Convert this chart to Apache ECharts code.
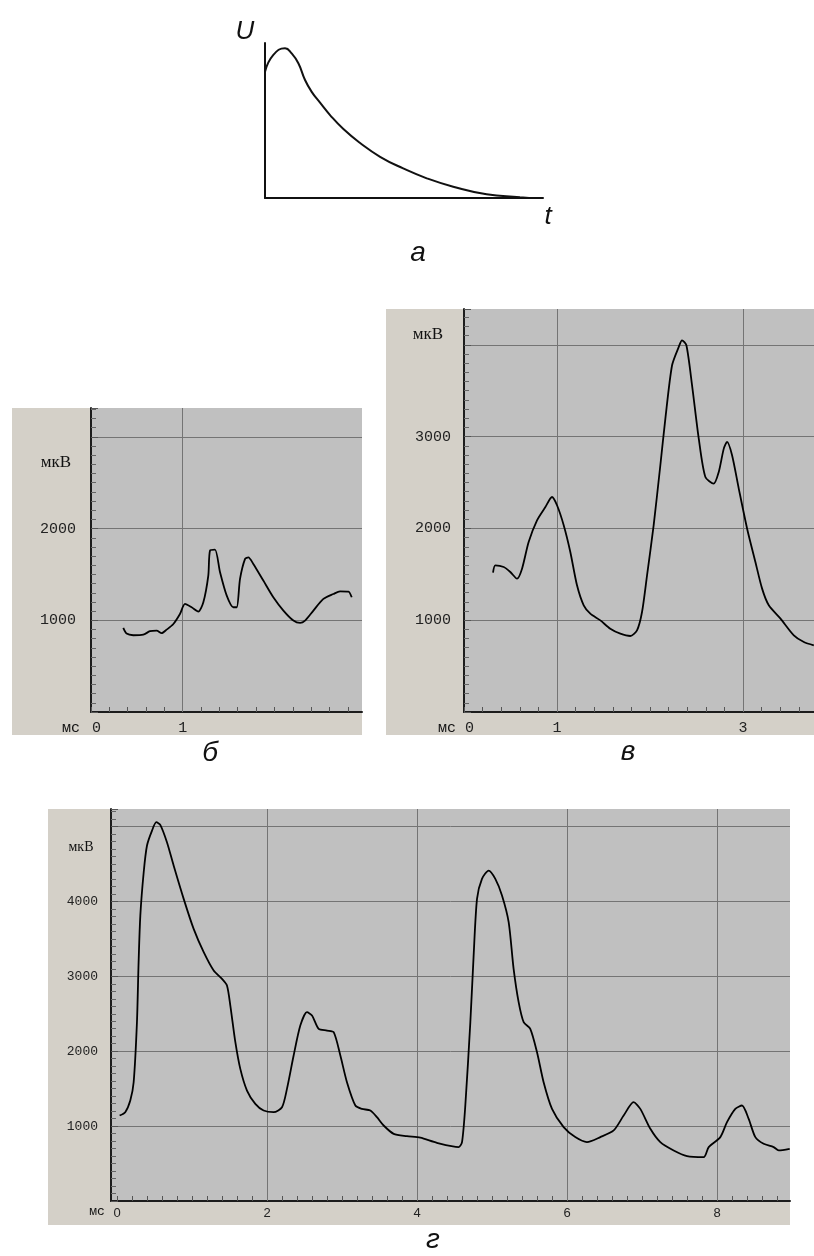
<!DOCTYPE html>
<html><head><meta charset="utf-8">
<script src="https://cdn.jsdelivr.net/npm/echarts@6/dist/echarts.min.js"></script>
<style>html,body{margin:0;padding:0;background:#fff}#c{width:814px;height:1256px}</style>
</head><body><div id="c"></div><script>
// ---------- Panel а : schematic pulse ----------
const A_X = [0, 0.30, 0.72, 0.96, 1.20, 1.44, 1.68, 1.98, 2.34, 2.82, 3.42, 4.14, 4.97, 5.82, 6.77, 7.97, 9.17, 9.5];
const A_Y = [8.15, 9.23, 9.66, 9.33, 8.69, 7.61, 6.85, 6.15, 5.35, 4.45, 3.55, 2.66, 1.91, 1.27, 0.73, 0.24, 0.05, 0.0];

// ---------- Panel б ----------
const B_X = [0.352,0.388,0.461,0.57,0.643,0.716,0.77,0.825,0.898,0.97,1.025,1.097,1.17,1.225,1.279,1.298,1.352,1.407,1.48,1.552,1.589,1.625,1.68,1.716,1.77,1.879,1.988,2.098,2.207,2.28,2.334,2.425,2.534,2.643,2.716,2.807,2.843];
const B_Y = [917,855,837,843,881,888,860,898,960,1069,1178,1142,1095,1196,1487,1760,1770,1524,1269,1142,1142,1451,1669,1687,1614,1433,1251,1106,997,971,997,1106,1233,1287,1316,1313,1251];
const B_XLABELS = [0, 1];
const B_XGRID = [1];
const B_YLABELS = [1000, 2000];

// ---------- Panel в ----------
const V_X = [0.312,0.337,0.427,0.498,0.570,0.624,0.695,0.785,0.875,0.946,1.000,1.072,1.143,1.215,1.287,1.358,1.466,1.573,1.681,1.788,1.860,1.914,1.968,2.039,2.111,2.165,2.237,2.309,2.344,2.391,2.452,2.524,2.595,2.685,2.739,2.793,2.828,2.882,2.954,3.044,3.133,3.205,3.277,3.403,3.546,3.654,3.761];
const V_Y = [1518,1597,1579,1525,1452,1561,1852,2088,2233,2342,2252,2034,1743,1380,1162,1071,998,907,853,828,889,1089,1489,2034,2688,3196,3777,3977,4049,3995,3559,2978,2560,2488,2615,2869,2942,2797,2434,1997,1634,1344,1162,1017,835,762,726];
const V_XLABELS = [0, 1, 3];
const V_XGRID = [1, 3];
const V_YLABELS = [1000, 2000, 3000];

// ---------- Panel г ----------
const G_X = [0.035,0.11,0.177,0.222,0.266,0.288,0.311,0.356,0.4,0.467,0.524,0.577,0.666,0.755,0.889,1.022,1.156,1.289,1.4,1.466,1.511,1.578,1.644,1.733,1.844,1.955,2.089,2.2,2.266,2.355,2.444,2.533,2.6,2.689,2.8,2.889,2.978,3.066,3.178,3.266,3.378,3.466,3.555,3.689,3.866,4.044,4.266,4.555,4.6,4.644,4.711,4.755,4.8,4.866,4.955,5.044,5.133,5.222,5.288,5.355,5.422,5.51,5.6,5.688,5.8,5.955,6.11,6.266,6.444,6.622,6.755,6.888,6.977,7.111,7.244,7.422,7.6,7.822,7.889,8.044,8.133,8.244,8.333,8.422,8.511,8.622,8.755,8.822,8.969];
const G_Y = [1141,1186,1341,1586,2387,3188,3811,4390,4746,4946,5058,5022,4790,4479,4034,3633,3322,3077,2966,2877,2610,2120,1764,1475,1297,1208,1186,1252,1497,1942,2343,2521,2477,2298,2276,2254,1942,1586,1275,1230,1208,1119,1008,897,866,845,777,720,786,1275,2387,3277,4034,4301,4412,4301,4079,3723,3099,2655,2387,2298,1986,1586,1230,986,853,786,853,942,1141,1319,1230,964,786,675,600,586,720,853,1053,1230,1275,1097,853,764,720,675,697];
const G_XLABELS = [0, 2, 4, 6, 8];
const G_XGRID = [2, 4, 6, 8];
const G_YLABELS = [1000, 2000, 3000, 4000];

const MINOR_STEP = 0.2;

const PLOT = '#c0c0c0', FRAME = '#d4d0c8', GRIDC = '#747474', AXISC = '#1c1c1c';
const MONO = '"Liberation Mono", "DejaVu Sans Mono", monospace';
const SERIF = '"Liberation Serif", "DejaVu Serif", serif';
const SANS = '"Liberation Sans", Arial, sans-serif';

function pairs(xs, ys) { return xs.map((x, i) => [x, ys[i]]); }
function tickList(min, max) {
  const out = []; const n0 = Math.ceil(min / MINOR_STEP - 1e-9), n1 = Math.floor(max / MINOR_STEP + 1e-9);
  for (let n = n0; n <= n1; n++) out.push(Math.round(n * MINOR_STEP * 1000) / 1000);
  return out;
}

const chart = echarts.init(document.getElementById('c'), null, {renderer: 'canvas'});

const grids = [
  {left: 265, top: 43, width: 278, height: 155, show: false},
  {left: 91, top: 408, width: 271, height: 304, show: true, backgroundColor: PLOT, borderWidth: 0},
  {left: 464, top: 309, width: 350, height: 403, show: true, backgroundColor: PLOT, borderWidth: 0},
  {left: 111, top: 809, width: 679, height: 392, show: true, backgroundColor: PLOT, borderWidth: 0}
];

function scopeX(idx, min, max, labels, fontSize, margin, shiftZero, family) {
  return {
    type: 'value', gridIndex: idx, min: min, max: max,
    axisLine: {show: true, onZero: false, lineStyle: {color: AXISC, width: 2}},
    axisTick: {show: true, inside: true, length: 5, customValues: tickList(min, max), lineStyle: {color: '#555', width: 1}},
    splitLine: {show: false},
    axisLabel: {
      show: true, customValues: labels, margin: margin, color: '#222',
      fontFamily: family, fontSize: fontSize,
      formatter: v => (labels.indexOf(Math.round(v * 1000) / 1000) < 0 ? '' : (v === 0 && shiftZero ? '{z|0}' : String(Math.round(v)))),
      rich: {z: {fontFamily: family, fontSize: fontSize, color: '#222', padding: [0, 0, 0, 11]}}
    }
  };
}
function scopeY(idx, max, labels, fontSize, margin) {
  return {
    type: 'value', gridIndex: idx, min: 0, max: max, interval: 1000,
    axisLine: {show: true, onZero: false, lineStyle: {color: AXISC, width: 2}},
    axisTick: {show: true, inside: true, length: 7, lineStyle: {color: '#555', width: 1}},
    minorTick: {show: true, splitNumber: 10, length: 5, lineStyle: {color: '#666', width: 1}},
    splitLine: {show: true, showMinLine: false, showMaxLine: false, lineStyle: {color: GRIDC, width: 1}},
    axisLabel: {
      show: true, margin: margin, color: '#222', fontFamily: MONO, fontSize: fontSize,
      formatter: v => (labels.indexOf(v) < 0 ? '' : String(v))
    }
  };
}
function traceSeries(idx, data, gridX) {
  return {
    type: 'line', xAxisIndex: idx, yAxisIndex: idx, data: data, showSymbol: false, symbol: 'none',
    smooth: 0.25, lineStyle: {color: '#000', width: 1.8}, z: 5,
    markLine: {
      silent: true, symbol: 'none', animation: false, label: {show: false},
      lineStyle: {color: GRIDC, width: 1, type: 'solid'},
      data: gridX.map(v => ({xAxis: v}))
    }
  };
}

function txt(text, x, y, font, align) {
  return {type: 'text', z: 50, style: {text: text, x: x, y: y, font: font, fill: '#111',
    textAlign: align || 'center', textVerticalAlign: 'middle', align: align || 'center', verticalAlign: 'middle'}};
}
function rect(x, y, w, h, fill) {
  return {type: 'rect', z: -100, shape: {x: x, y: y, width: w, height: h}, style: {fill: fill}};
}

const option = {
  animation: false,
  backgroundColor: '#fff',
  grid: grids,
  xAxis: [
    {type: 'value', gridIndex: 0, min: 0, max: 10,
     axisLine: {show: true, onZero: false, lineStyle: {color: '#111', width: 2}},
     axisTick: {show: false}, axisLabel: {show: false}, splitLine: {show: false}},
    scopeX(1, 0, 2.955, B_XLABELS, 15, 9, true, MONO),
    scopeX(2, 0, 3.763, V_XLABELS, 15, 9, true, MONO),
    scopeX(3, -0.08, 8.973, G_XLABELS, 13, 6, false, SANS)
  ],
  yAxis: [
    {type: 'value', gridIndex: 0, min: 0, max: 10,
     axisLine: {show: true, onZero: false, lineStyle: {color: '#111', width: 2}},
     axisTick: {show: false}, axisLabel: {show: false}, splitLine: {show: false}},
    scopeY(1, 3315, B_YLABELS, 15, 15),
    scopeY(2, 4390, V_YLABELS, 15, 13),
    scopeY(3, 5234, G_YLABELS, 13, 13)
  ],
  series: [
    {type: 'line', xAxisIndex: 0, yAxisIndex: 0, data: pairs(A_X, A_Y), showSymbol: false, symbol: 'none',
     smooth: 0.5, lineStyle: {color: '#111', width: 2}},
    traceSeries(1, pairs(B_X, B_Y), B_XGRID),
    traceSeries(2, pairs(V_X, V_Y), V_XGRID),
    traceSeries(3, pairs(G_X, G_Y), G_XGRID)
  ],
  graphic: [
    rect(12, 408, 350, 327, FRAME),
    rect(386, 309, 428, 426, FRAME),
    rect(48, 809, 742, 416, FRAME),
    txt('U', 245, 32, 'italic 26px ' + SANS),
    txt('t', 548, 217, 'italic 26px ' + SANS),
    txt('а', 418, 253, 'italic 28px ' + SANS),
    txt('б', 210, 753, 'italic 28px ' + SANS),
    txt('в', 628, 752, 'italic 28px ' + SANS),
    txt('г', 433, 1240, 'italic 28px ' + SANS),
    txt('мкВ', 56, 463, '17px ' + SERIF),
    txt('мкВ', 428, 335, '17px ' + SERIF),
    txt('мкВ', 81, 847, '14px ' + SERIF),
    txt('мс', 71, 728, '15px ' + MONO),
    txt('мс', 447, 728, '15px ' + MONO),
    txt('мс', 97, 1212, '13px ' + MONO)
  ]
};
chart.setOption(option);
</script></body></html>
